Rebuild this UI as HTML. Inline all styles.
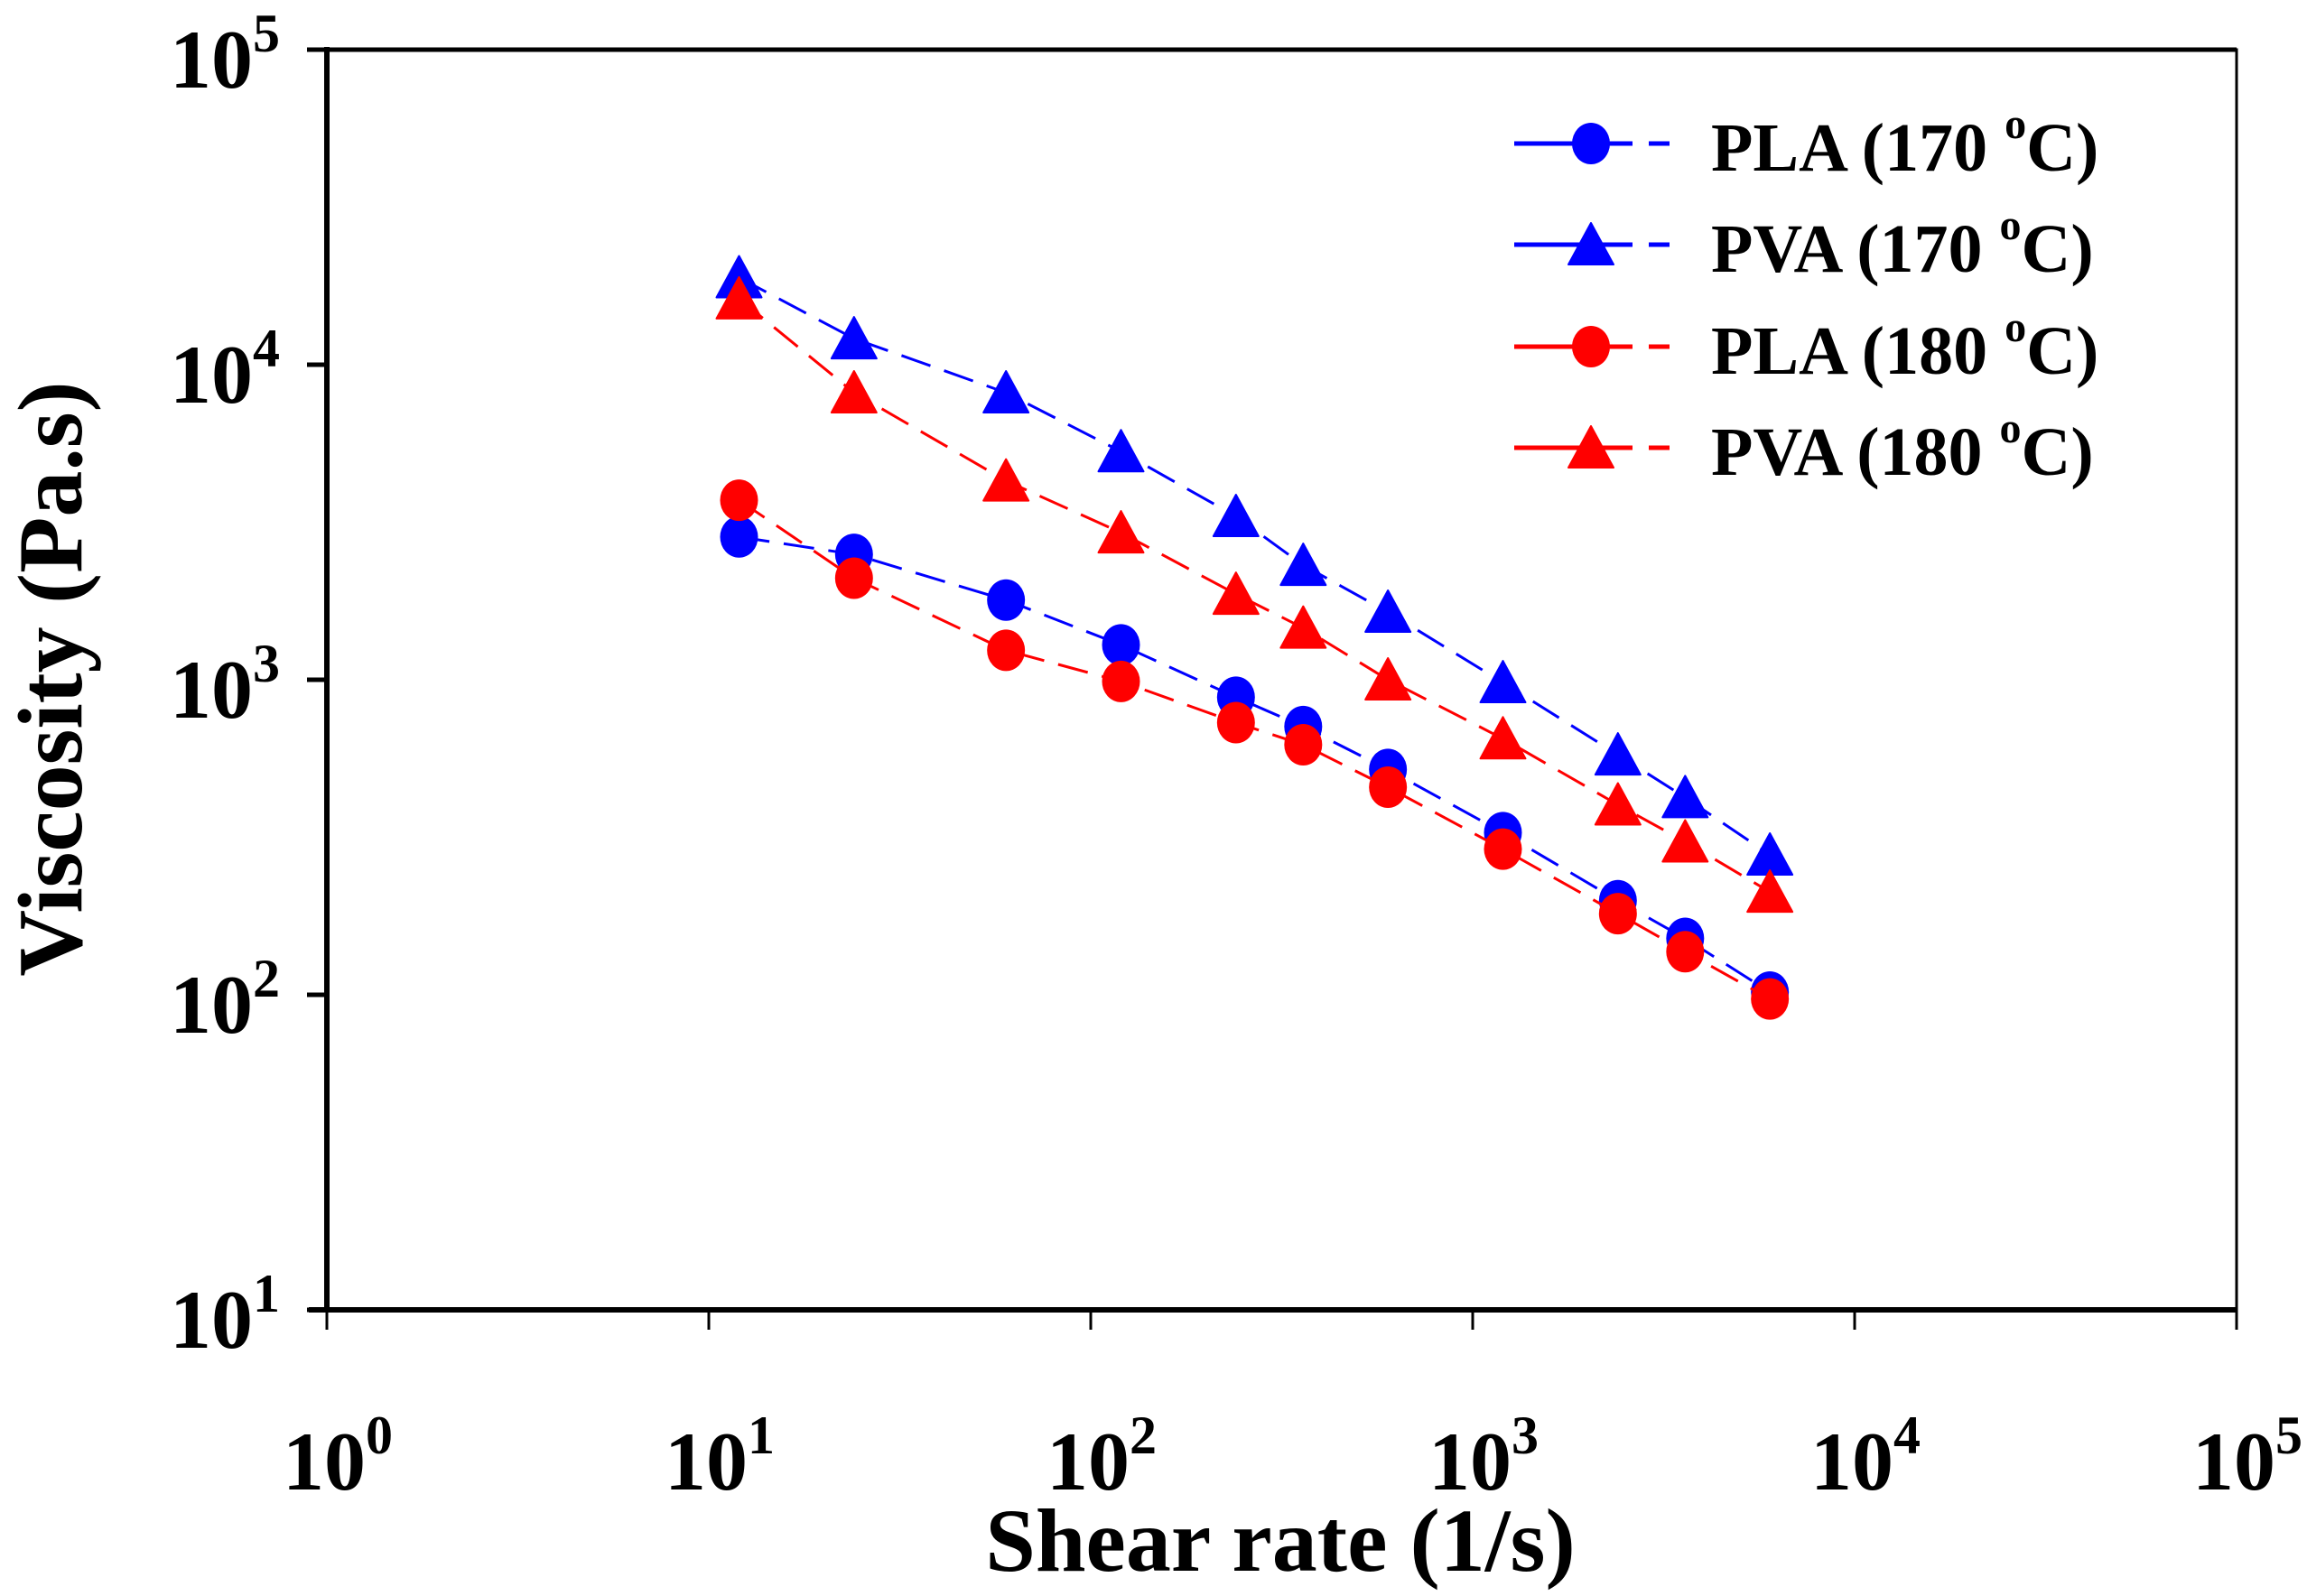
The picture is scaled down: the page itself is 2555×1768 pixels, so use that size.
<!DOCTYPE html>
<html><head><meta charset="utf-8"><style>
html,body{margin:0;padding:0;background:#fff;}
svg{display:block;}
text{font-family:"Liberation Serif",serif;font-weight:bold;fill:#000;}
</style></head><body>
<svg id="chart" width="2555" height="1768" viewBox="0 0 2555 1768" xmlns="http://www.w3.org/2000/svg">
<g id="axes"></g>
<g id="series"></g>
<g id="legend"></g>
<text x="1418" y="1740" font-size="100" text-anchor="middle">Shear rate (1/s)</text>
<text transform="translate(90,752) rotate(-90)" font-size="102" text-anchor="middle">Viscosity (Pa.s)</text>
</svg>
<script>
const shearRates = [12, 24, 60, 120, 240, 360, 600, 1200, 2400, 3600, 6000];
const pla170 = [2840, 2500, 1790, 1290, 880, 710, 519, 327, 199, 151, 102];
const pva170 = [18900, 12100, 8150, 5300, 3300, 2310, 1640, 980, 578, 423, 278];
const pla180 = [3715, 2100, 1240, 988, 731, 622, 456, 290, 181, 137, 97];
const pva180 = [16200, 8150, 4280, 2930, 1870, 1460, 1000, 650, 401, 306, 212];
const xTickExps = [0, 1, 2, 3, 4, 5];
const yTickExps = [1, 2, 3, 4, 5];
const seriesNames = ["PLA (170 ", "PVA (170 ", "PLA (180 ", "PVA (180 "];

const NS = "http://www.w3.org/2000/svg";
const X0 = 362, X1 = 2477, Y0 = 1451, Y1 = 55;
function xs(v){ return X0 + (Math.log10(v) - 0) / 5 * (X1 - X0); }
function ys(v){ return Y0 - (Math.log10(v) - 1) / 4 * (Y0 - Y1); }
function mk(tag, attrs, parent){ const e = document.createElementNS(NS, tag); for (const k in attrs) e.setAttribute(k, attrs[k]); parent.appendChild(e); return e; }

const axes = document.getElementById('axes');
const frame = mk('rect', {x:X0, y:Y1, width:X1-X0, height:Y0-Y1, fill:'none', stroke:'#000', 'stroke-width':3}, axes);


const xl = mk('line', {x1:X0-20, y1:Y0, x2:X1, y2:Y0, stroke:'#000', 'stroke-width':6}, axes);


const yl = mk('line', {x1:X0, y1:Y1-3, x2:X0, y2:Y0+3, stroke:'#000', 'stroke-width':6}, axes);


const tl = mk('line', {x1:X0-20, y1:Y1, x2:X1, y2:Y1, stroke:'#000', 'stroke-width':5}, axes);



xTickExps.forEach(e => {
  const x = xs(Math.pow(10, e));
  const t = mk('line', {x1:x, y1:Y0, x2:x, y2:Y0+22, stroke:'#000', 'stroke-width':3}, axes);
  
  
  const lab = mk('text', {x:x+12, y:1650, 'font-size':92, 'text-anchor':'middle'}, axes);
  
  
  lab.textContent = '10';
  const sp = mk('tspan', {dy:-40, 'font-size':60}, lab);
  sp.textContent = String(e);
});
yTickExps.forEach(e => {
  const y = ys(Math.pow(10, e));
  const t = mk('line', {x1:X0-22, y1:y, x2:X0, y2:y, stroke:'#000', 'stroke-width':5}, axes);
  
  
  const lab = mk('text', {x:310, y:y+42, 'font-size':92, 'text-anchor':'end'}, axes);
  
  
  lab.textContent = '10';
  const sp = mk('tspan', {dy:-40, 'font-size':60}, lab);
  sp.textContent = String(e);
});

const seriesData = [pla170, pva170, pla180, pva180];
const colors = ['#0000ff', '#0000ff', '#ff0000', '#ff0000'];
const shapes = ['circle', 'triangle', 'circle', 'triangle'];
const keys = ['pla-170', 'pva-170', 'pla-180', 'pva-180'];
function marker(parent, shape, cx, cy, color){
  if (shape === 'circle') return mk('ellipse', {cx:cx, cy:cy, rx:21, ry:23, fill:color}, parent);
  return mk('polygon', {points:`${cx},${cy-24} ${cx+25},${cy+22} ${cx-25},${cy+22}`, fill:color, 'stroke-linejoin':'round', stroke:color, 'stroke-width':2}, parent);
}
const sg = document.getElementById('series');
seriesData.forEach((vals, i) => {
  const g = mk('g', {}, sg);
  
  
  const pts = vals.map((v, j) => xs(shearRates[j]) + ',' + ys(v)).join(' ');
  const pl = mk('polyline', {points:pts, fill:'none', stroke:colors[i], 'stroke-width':3, 'stroke-dasharray':'34 16'}, g);
  
  
  vals.forEach((v, j) => {
    const m = marker(g, shapes[i], xs(shearRates[j]), ys(v), colors[i]);
    
    
  });
});

const lg = document.getElementById('legend');
const rowY = [159, 271, 384, 496];
seriesNames.forEach((name, i) => {
  const g = mk('g', {}, lg);
  
  
  const y = rowY[i];
  mk('line', {x1:1677, y1:y, x2:1731, y2:y, stroke:colors[i], 'stroke-width':5}, g);
  mk('line', {x1:1731, y1:y, x2:1808, y2:y, stroke:colors[i], 'stroke-width':5}, g);
  mk('line', {x1:1826, y1:y, x2:1849, y2:y, stroke:colors[i], 'stroke-width':5}, g);
  marker(g, shapes[i], 1762, y, colors[i]);
  const t = mk('text', {x:1895, y:y+30, 'font-size':76}, g);
  
  
  t.textContent = name;
  const s = mk('tspan', {dy:-36, 'font-size':48}, t);
  s.textContent = 'o';
  const c = mk('tspan', {dy:36}, t);
  c.textContent = 'C)';
});
</script>
</body></html>
